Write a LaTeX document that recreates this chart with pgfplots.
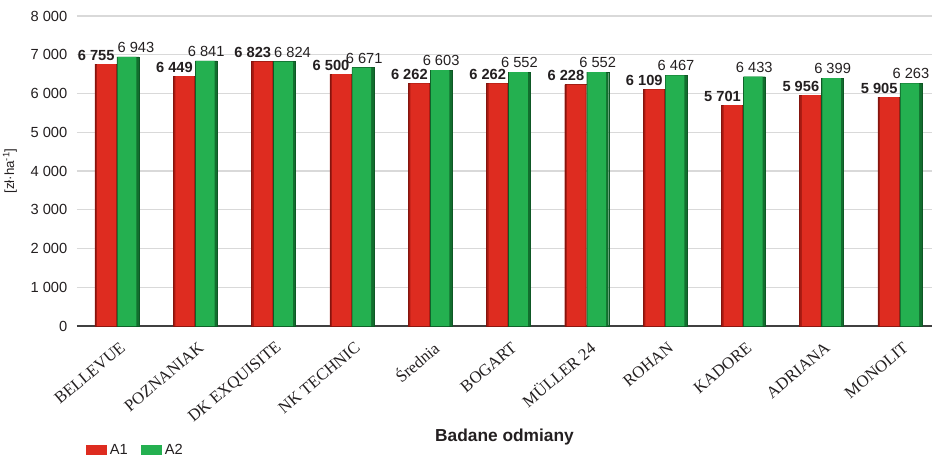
\documentclass[border=0pt]{standalone}
\usepackage{fontspec}
\setmainfont{Liberation Sans}
\newfontfamily\tnr{Liberation Serif}
\usepackage{pgfplots}
\usepackage{pgfplotstable}
\pgfplotsset{compat=1.18}
\definecolor{rmain}{RGB}{222,44,32}
\definecolor{rdk}{RGB}{165,26,18}
\definecolor{gmain}{RGB}{36,176,80}
\definecolor{gdk}{RGB}{18,110,46}
\definecolor{gridc}{RGB}{217,217,217}
\definecolor{txt}{RGB}{35,31,32}
\pgfplotstableread{
x a1 a2 dx
0 6755 6943 6
1 6449 6841 0
2 6823 6824 6
3 6500 6671 1
4 6262 6603 0
5 6262 6552 0
6 6228 6552 0
7 6109 6467 0
8 5701 6433 0
9 5956 6399 0
10 5905 6263 0
}\data
\begin{document}
\begin{tikzpicture}
\path[use as bounding box] (-57.75pt,-98.25pt) rectangle (641.25pt,244.5pt);
\begin{axis}[
  at={(0pt,0pt)}, anchor=south west,
  scale only axis, width=641.25pt, height=232.5pt,
  xmin=-0.51, xmax=10.41, ymin=0, ymax=8000,
  ybar,
  axis x line*=bottom, axis y line*=left,
  y axis line style={draw=none},
  x axis line style={draw=black!75, line width=1.1pt},
  major tick length=0pt,
  ytick={0,1000,...,8000},
  ymajorgrids, grid style={gridc, line width=1pt},
  xtick={0,...,10},
  xticklabels={BELLEVUE,POZNANIAK,DK EXQUISITE,NK TECHNIC,Średnia,BOGART,MÜLLER 24,ROHAN,KADORE,ADRIANA,MONOLIT},
  xticklabel style={font=\tnr\fontsize{12.5}{14}\selectfont, rotate=40, anchor=east, yshift=-14pt, xshift=-2.5pt, text=txt},
  yticklabel style={font=\fontsize{11}{13}\selectfont, text=txt, xshift=-3.75pt},
  /pgf/number format/assume math mode=true,
  /pgf/number format/1000 sep={\ },
  xlabel={Badane odmiany},
  every axis x label/.style={at={(axis description cs:0.5,-0.358)}, anchor=center, font=\bfseries\fontsize{13}{15}\selectfont, text=txt},
  ylabel={[zł·ha\textsuperscript{-1}]},
  every axis y label/.style={at={(axis description cs:-0.0784,0.5)}, rotate=90, anchor=center, font=\fontsize{10}{12}\selectfont, text=txt},
  legend columns=2,
  legend style={at={(axis description cs:0.0105,-0.4)}, anchor=west, draw=none, fill=none, inner sep=0pt,
    font=\fontsize{11}{13}\selectfont, text=txt,
    /tikz/every even column/.append style={column sep=8pt}},
  legend image code/.code={\path[#1] (0pt,-3.4pt) rectangle (15.75pt,3.4pt);},
]
% dark base bars (edges)
\addplot[forget plot, fill=rdk, draw=rdk!80!black, line width=0.3pt, bar width=16.5pt, bar shift=-8.25pt]
  table[x=x,y=a1]{\data};
\addplot[forget plot, fill=gdk, draw=gdk!80!black, line width=0.3pt, bar width=16.5pt, bar shift=8.25pt]
  table[x=x,y=a2]{\data};
% main faces
\addplot[fill=rmain, draw=none, bar width=14pt, bar shift=-7.8pt,
  nodes near coords,
  every node near coord/.append style={font=\bfseries\fontsize{11}{13}\selectfont, anchor=south east, inner sep=0pt, xshift=6.2pt, yshift=2.5pt, text=txt}]
  table[x=x,y=a1]{\data};
\addplot[fill=gmain, draw=none, bar width=14pt, bar shift=7.5pt,
  visualization depends on={\thisrow{dx} \as \dx},
  nodes near coords,
  every node near coord/.append style={font=\fontsize{11}{13}\selectfont, anchor=south, inner sep=0pt, xshift=\dx pt+0.75pt, yshift=3pt, text=txt}]
  table[x=x,y=a2]{\data};
\legend{A1,A2}
\end{axis}
\end{tikzpicture}
\end{document}
